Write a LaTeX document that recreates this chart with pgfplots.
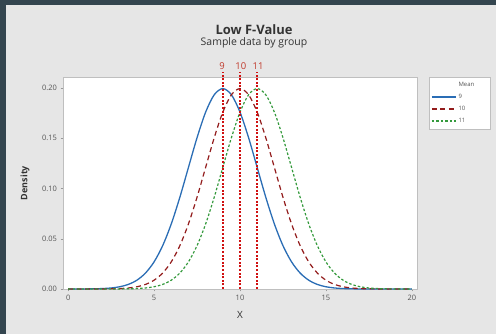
\documentclass[border=0pt]{standalone}
\usepackage{pgfplots}
\usepackage{pgfplotstable}
\pgfplotsset{compat=1.18}
\usepackage{fontspec}
\setmainfont{Open Sans}
\definecolor{darkbg}{HTML}{34454F}
\definecolor{panel}{HTML}{E6E6E6}
\definecolor{cblue}{HTML}{2A6DB5}
\definecolor{cred}{HTML}{931C1C}
\definecolor{cgreen}{HTML}{349A3C}
\definecolor{vred}{HTML}{D01010}
\definecolor{lred}{HTML}{C0392B}
\definecolor{txtgray}{HTML}{555555}

\pgfplotstableread{
x     m9       m10      m11
0     0.00001  0        0
0.5   0.00002  0        0
1     0.00007  0.00001  0
1.5   0.00018  0.00002  0
2     0.00044  0.00007  0.00001
2.5   0.00101  0.00018  0.00002
3     0.00222  0.00044  0.00007
3.5   0.00455  0.00101  0.00018
4     0.00876  0.00222  0.00044
4.5   0.01587  0.00455  0.00101
5     0.02700  0.00876  0.00222
5.5   0.04314  0.01587  0.00455
6     0.06476  0.02700  0.00876
6.5   0.09132  0.04314  0.01587
7     0.12099  0.06476  0.02700
7.5   0.15057  0.09132  0.04314
8     0.17603  0.12099  0.06476
8.5   0.19333  0.15057  0.09132
9     0.19947  0.17603  0.12099
9.5   0.19333  0.19333  0.15057
10    0.17603  0.19947  0.17603
10.5  0.15057  0.19333  0.19333
11    0.12099  0.17603  0.19947
11.5  0.09132  0.15057  0.19333
12    0.06476  0.12099  0.17603
12.5  0.04314  0.09132  0.15057
13    0.02700  0.06476  0.12099
13.5  0.01587  0.04314  0.09132
14    0.00876  0.02700  0.06476
14.5  0.00455  0.01587  0.04314
15    0.00222  0.00876  0.02700
15.5  0.00101  0.00455  0.01587
16    0.00044  0.00222  0.00876
16.5  0.00018  0.00101  0.00455
17    0.00007  0.00044  0.00222
17.5  0.00002  0.00018  0.00101
18    0.00001  0.00007  0.00044
18.5  0        0.00002  0.00018
19    0        0.00001  0.00007
19.5  0        0        0.00002
20    0        0        0.00001
}\densities

\begin{document}
\begin{tikzpicture}
\useasboundingbox (0,0) rectangle (496bp,334bp);
\fill[darkbg] (0,0) rectangle (496bp,334bp);
\fill[panel] (6bp,0) rectangle (496bp,329bp);
\node[font=\fontsize{13}{15}\selectfont\bfseries, text=black!80] at (254bp,304bp) {Low F-Value};
\node[font=\fontsize{10.5}{12}\selectfont, text=black!80] at (254bp,291bp) {Sample data by group};
\begin{axis}[
  at={(63bp,45bp)}, anchor=south west,
  scale only axis, width=354bp, height=212bp,
  xmin=-0.3, xmax=20.3, ymin=0, ymax=0.211,
  clip=false,
  axis background/.style={fill=white},
  axis line style={draw=black!25},
  xtick={0,5,10,15,20}, ytick={0,0.05,0.10,0.15,0.20},
  tick align=outside, xtick pos=bottom, ytick pos=left,
  major tick length=2.5bp,
  tick style={draw=black!40, line width=0.4pt},
  /pgf/number format/assume math mode=true,
  yticklabel style={/pgf/number format/fixed, /pgf/number format/fixed zerofill, /pgf/number format/precision=2},
  tick label style={font=\fontsize{7.5}{9}\selectfont, text=txtgray},
  scaled y ticks=false,
  xlabel={X}, ylabel={Density},
  xlabel style={font=\fontsize{10}{12}\selectfont, text=black!80, at={(axis description cs:0.5,-0.123)}, anchor=center},
  ylabel style={font=\fontsize{9}{11}\selectfont\bfseries, text=black!80, at={(axis description cs:-0.107,0.5)}, anchor=center},
  legend style={at={(1.034,1)}, anchor=north west, font=\fontsize{6}{7}\selectfont, text=txtgray,
    draw=black!25, fill=white, row sep=2.2pt, inner xsep=2pt, inner ysep=3pt},
  legend cell align=left,
]
\addlegendimage{empty legend}
\addlegendentry{\makebox[28bp][l]{Mean}}
\addplot[draw=cblue, line width=1.3pt, smooth,
  legend image code/.code={\draw[cblue, line width=1.3pt] (0bp,0bp) -- (24bp,0bp);}]
  table[x=x, y=m9] {\densities};
\addlegendentry{9}
\addplot[draw=cred, line width=1.2pt, smooth, dash pattern=on 5bp off 3.5bp,
  legend image code/.code={\draw[cred, line width=1.2pt, dash pattern=on 5bp off 3.5bp] (0bp,0bp) -- (24bp,0bp);}]
  table[x=x, y=m10] {\densities};
\addlegendentry{10}
\addplot[draw=cgreen, line width=1.2pt, smooth, dash pattern=on 2.5bp off 2bp,
  legend image code/.code={\draw[cgreen, line width=1.2pt, dash pattern=on 2.5bp off 2bp] (0bp,0bp) -- (24bp,0bp);}]
  table[x=x, y=m11] {\densities};
\addlegendentry{11}
\addplot[draw=vred, line width=2.2pt, dash pattern=on 2bp off 1.6bp, forget plot] coordinates {(9,0) (9,0.216)};
\addplot[draw=vred, line width=2.2pt, dash pattern=on 2bp off 1.6bp, forget plot] coordinates {(10,0) (10,0.216)};
\addplot[draw=vred, line width=2.2pt, dash pattern=on 2bp off 1.6bp, forget plot] coordinates {(11,0) (11,0.216)};
\node[font=\fontsize{9.5}{11}\selectfont, text=lred] at (axis cs:8.95,0.2215) {9};
\node[font=\fontsize{9.5}{11}\selectfont, text=lred] at (axis cs:10.05,0.2215) {10};
\node[font=\fontsize{9.5}{11}\selectfont, text=lred] at (axis cs:11.05,0.2215) {11};
\end{axis}
\end{tikzpicture}
\end{document}
